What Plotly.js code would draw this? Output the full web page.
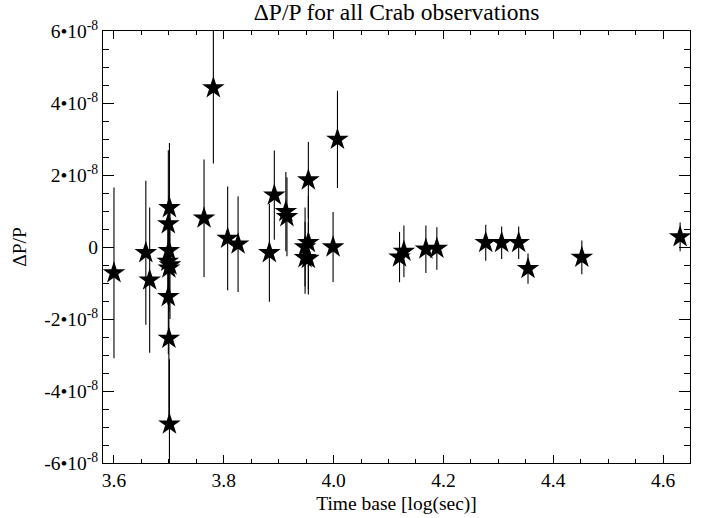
<!DOCTYPE html>
<html>
<head>
<meta charset="utf-8">
<script src="https://cdn.plot.ly/plotly-3.0.1.min.js"></script>
<style>html,body{margin:0;padding:0;background:#fff;}#chart{width:707px;height:518px;}</style>
</head>
<body>
<div id="chart"></div>
<script>
// Time base [log(sec)]
const timeBase = [3.600, 3.658, 3.665, 3.701, 3.699, 3.700, 3.698, 3.702, 3.700, 3.699, 3.700, 3.701,
  3.764, 3.781, 3.807, 3.826, 3.883, 3.892, 3.913, 3.915, 3.954, 3.948, 3.954, 3.948, 3.954,
  3.999, 4.007, 4.120, 4.128, 4.168, 4.188, 4.277, 4.306, 4.337, 4.354, 4.452, 4.631];
// ΔP/P values
const dPP = [-0.72e-8, -0.16e-8, -0.92e-8, 1.09e-8, 0.64e-8, -0.10e-8, -0.40e-8, -0.50e-8, -0.59e-8, -1.38e-8, -2.54e-8, -4.92e-8,
  0.80e-8, 4.42e-8, 0.24e-8, 0.08e-8, -0.16e-8, 1.44e-8, 0.98e-8, 0.84e-8, 1.86e-8, 0.00e-8, 0.12e-8, -0.30e-8, -0.32e-8,
  0.00e-8, 2.99e-8, -0.28e-8, -0.12e-8, -0.06e-8, -0.04e-8, 0.12e-8, 0.12e-8, 0.12e-8, -0.60e-8, -0.29e-8, 0.28e-8];
// errors on ΔP/P
const dPPerr = [2.37e-8, 2.00e-8, 2.02e-8, 1.80e-8, 2.05e-8, 1.50e-8, 1.20e-8, 1.50e-8, 1.20e-8, 1.60e-8, 2.50e-8, 1.80e-8,
  1.63e-8, 2.10e-8, 1.44e-8, 1.33e-8, 1.36e-8, 1.24e-8, 1.10e-8, 1.10e-8, 1.06e-8, 1.10e-8, 1.30e-8, 1.00e-8, 1.00e-8,
  0.97e-8, 1.35e-8, 0.70e-8, 0.72e-8, 0.66e-8, 0.59e-8, 0.50e-8, 0.45e-8, 0.45e-8, 0.42e-8, 0.47e-8, 0.40e-8];

const yTickVals = [-6e-8, -4e-8, -2e-8, 0, 2e-8, 4e-8, 6e-8];
const yTickText = ['-6•10<sup>-8</sup>', '-4•10<sup>-8</sup>', '-2•10<sup>-8</sup>', '0', '2•10<sup>-8</sup>', '4•10<sup>-8</sup>', '6•10<sup>-8</sup>'];
const xTickVals = [3.6, 3.8, 4.0, 4.2, 4.4, 4.6];
const xTickText = ['3.6', '3.8', '4.0', '4.2', '4.4', '4.6'];

const font = 'Liberation Serif, Times New Roman, serif';

const trace = {
  x: timeBase, y: dPP, type: 'scatter', mode: 'markers',
  marker: {symbol: 'star', size: 17, color: 'black', line: {width: 0}},
  error_y: {type: 'data', array: dPPerr, visible: true, color: 'black', thickness: 1.1, width: 0},
  cliponaxis: true, hoverinfo: 'none'
};

const layout = {
  width: 707, height: 518,
  margin: {l: 103, r: 17, t: 31, b: 55},
  paper_bgcolor: 'white', plot_bgcolor: 'white',
  showlegend: false,
  font: {family: font, color: 'black', size: 19},
  title: {text: 'ΔP/P for all Crab observations', font: {family: font, size: 23.5, color: 'black'}, x: 0.561, xanchor: 'center', y: 0.977, yanchor: 'middle'},
  xaxis: {
    range: [3.58, 4.649], tickmode: 'array', tickvals: xTickVals, ticktext: xTickText,
    ticks: 'inside', ticklen: 8, tickwidth: 1, tickcolor: 'black',
    minor: {dtick: 0.05, tick0: 3.6, ticks: 'inside', ticklen: 4, tickwidth: 1, tickcolor: 'black'},
    showline: true, linecolor: 'black', linewidth: 1, mirror: 'allticks',
    showgrid: false, zeroline: false,
    tickfont: {family: font, size: 19.5, color: 'black'},
    title: {text: 'Time base [log(sec)]', font: {family: font, size: 19.5, color: 'black'}, standoff: 5}
  },
  yaxis: {
    range: [-6e-8, 6e-8], tickmode: 'array', tickvals: yTickVals, ticktext: yTickText,
    ticks: 'inside', ticklen: 11, tickwidth: 1, tickcolor: 'black',
    minor: {dtick: 0.5e-8, tick0: 0, ticks: 'inside', ticklen: 6, tickwidth: 1, tickcolor: 'black'},
    showline: true, linecolor: 'black', linewidth: 1, mirror: 'allticks',
    showgrid: false, zeroline: false,
    tickfont: {family: font, size: 19.5, color: 'black'},
    title: {text: 'ΔP/P', font: {family: font, size: 19.5, color: 'black'}, standoff: 12}
  }
};

Plotly.newPlot('chart', [trace], layout, {staticPlot: true, displayModeBar: false});
</script>
</body>
</html>
